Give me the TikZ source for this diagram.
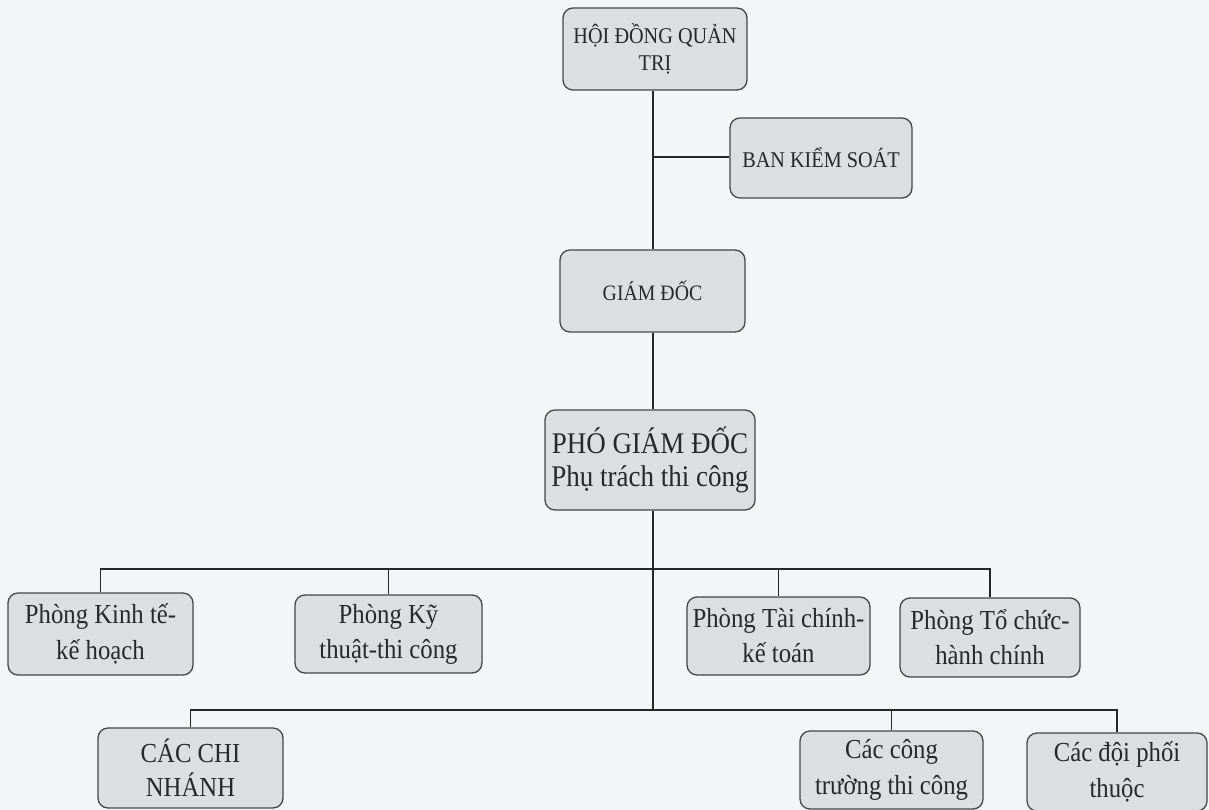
\documentclass[tikz,border=0pt]{standalone}
\usepackage{fontspec}
\setmainfont{Liberation Serif}
\newfontfamily\tallserif{Liberation Serif}[FakeStretch=0.9]
\definecolor{bgcol}{RGB}{243,245,246}
\definecolor{boxfill}{RGB}{221,222,224}
\definecolor{boxline}{RGB}{70,70,72}
\definecolor{txtcol}{RGB}{40,40,42}
\tikzset{
  orgbox/.style={draw=boxline, fill=boxfill, line width=1.3pt, rounded corners=10pt,
    align=center, text=txtcol, inner sep=2pt},
  link/.style={draw=black!85, line width=1.3pt},
}
\begin{document}
\begin{tikzpicture}[x=1pt,y=-1pt]
\fill[bgcol] (0,0) rectangle (1209,810);
\useasboundingbox (0,0) rectangle (1209,810);

% top part
\node[orgbox, minimum width=184pt, minimum height=82pt, font=\tallserif\fontsize{22.5}{27}\selectfont]
  (hdqt) at (655,49) {HỘI ĐỒNG QUẢN\\TRỊ};
\node[orgbox, minimum width=182pt, minimum height=80pt, font=\tallserif\fontsize{22.5}{26}\selectfont]
  (bks) at (821,158) {BAN KIỂM SOÁT};
\node[orgbox, minimum width=185pt, minimum height=82pt, font=\tallserif\fontsize{22}{26}\selectfont]
  (gd) at (652.5,291) {GIÁM ĐỐC};
\node[orgbox, minimum width=210pt, minimum height=100pt, font=\tallserif\fontsize{30}{33}\selectfont]
  (pgd) at (650,460) {PHÓ GIÁM ĐỐC\\Phụ trách thi công};

% departments
\node[orgbox, minimum width=185pt, minimum height=82pt, font=\tallserif\fontsize{27.5}{36}\selectfont]
  (pkt) at (100.5,634) {Phòng Kinh tế-\\kế hoạch};
\node[orgbox, minimum width=187pt, minimum height=78pt, font=\tallserif\fontsize{27.5}{35}\selectfont]
  (pkth) at (388.5,634) {Phòng Kỹ\\thuật-thi công};
\node[orgbox, minimum width=183pt, minimum height=78pt, font=\tallserif\fontsize{27.5}{35}\selectfont]
  (ptc) at (778.5,636) {Phòng Tài chính-\\kế toán};
\node[orgbox, minimum width=180pt, minimum height=79pt, font=\tallserif\fontsize{27.5}{35}\selectfont]
  (ptch) at (990,637.5) {Phòng Tổ chức-\\hành chính};

% bottom row
\node[orgbox, minimum width=185pt, minimum height=80pt, font=\tallserif\fontsize{27.5}{34}\selectfont]
  (cn) at (190.5,768) {CÁC CHI\\NHÁNH};
\node[orgbox, minimum width=183pt, minimum height=78pt, font=\tallserif\fontsize{27.5}{36}\selectfont]
  (cct) at (891.5,770) {Các công\\trường thi công};
\node[orgbox, minimum width=180pt, minimum height=78pt, font=\tallserif\fontsize{27.5}{36}\selectfont]
  (cdpt) at (1117,772) {Các đội phối\\thuộc};

% trunk and buses
\coordinate (trunk) at (653,0);
\coordinate (bus1) at (0,569);
\coordinate (bus2) at (0,710);
\coordinate (bksj) at (653,157);

\draw[link] (hdqt.south -| trunk) -- (gd.north -| trunk);
\draw[link] (bksj) -- (bksj -| bks.west);
\draw[link] (gd.south -| trunk) -- (pgd.north -| trunk);
\draw[link] (pgd.south -| trunk) -- (trunk |- bus2);

\draw[link] (pkt.north) -- (pkt.north |- bus1) -- (ptch.north |- bus1) -- (ptch.north);
\draw[link] (pkth.north) -- (pkth.north |- bus1);
\draw[link] (ptc.north) -- (ptc.north |- bus1);

\draw[link] (cn.north) -- (cn.north |- bus2) -- (cdpt.north |- bus2) -- (cdpt.north);
\draw[link] (cct.north) -- (cct.north |- bus2);
\end{tikzpicture}
\end{document}
